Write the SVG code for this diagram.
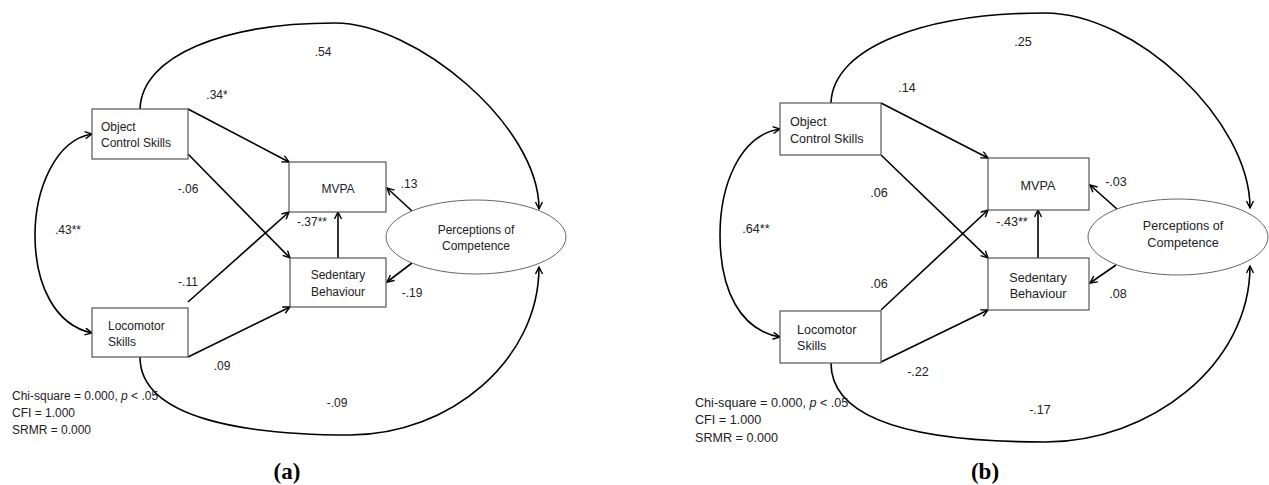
<svg xmlns="http://www.w3.org/2000/svg" width="1269" height="485" viewBox="0 0 1269 485">
<defs>
<marker id="ah" markerWidth="10" markerHeight="10" refX="8" refY="4" orient="auto" markerUnits="userSpaceOnUse">
<path d="M1,0.5 L8,4 L1,7.5" fill="none" stroke="#000" stroke-width="1.4"/>
</marker>
<marker id="ahs" markerWidth="10" markerHeight="10" refX="1" refY="4" orient="auto" markerUnits="userSpaceOnUse">
<path d="M8,0.5 L1,4 L8,7.5" fill="none" stroke="#000" stroke-width="1.4"/>
</marker>
</defs>
<style>
.box{fill:#fff;stroke:#555;stroke-width:1.2}
.ell{fill:#fff;stroke:#666;stroke-width:1}
.ln{fill:none;stroke:#000;stroke-width:1.6;marker-end:url(#ah)}
.bi{fill:none;stroke:#000;stroke-width:1.6;marker-start:url(#ahs);marker-end:url(#ah)}
.pl{fill:none;stroke:#000;stroke-width:1.6}
text{font-family:"Liberation Sans",Arial,sans-serif;font-size:12px;fill:#222}
.b{font-size:12.6px}
.c{text-anchor:middle}
.cap{font-family:"Liberation Serif","Times New Roman",serif;font-weight:bold;font-size:23px;fill:#000;text-anchor:middle}
</style>
<rect width="1269" height="485" fill="#fff"/>

<!-- Panel (a) connectors -->
<g id="connectors-a">
<path class="ln" d="M140,109 C142,55 225,23 335,23 C415,23 539,125 539,209"/>
<path class="ln" d="M140,357 C140,420 250,435 350,435 C450,435 539,360 539,267"/>
<path class="bi" d="M92,134 C55,140 35,190 35,235 C35,285 55,325 92,333"/>
<line class="ln" x1="188" y1="109" x2="289" y2="162"/>
<line class="ln" x1="188" y1="154" x2="290" y2="258"/>
<line class="ln" x1="188" y1="302" x2="289" y2="212"/>
<line class="ln" x1="188" y1="357" x2="290" y2="307"/>
<line class="ln" x1="338" y1="258" x2="338" y2="212"/>
<line class="ln" x1="412" y1="211" x2="387" y2="188"/>
<line class="ln" x1="412" y1="263" x2="387" y2="282"/>
</g>

<g id="a-ocs"><rect class="box" x="92" y="109" width="96" height="50"/><text x="101" y="131">Object</text><text x="101" y="147">Control Skills</text></g>
<g id="a-loco"><rect class="box" x="92" y="308" width="96" height="49"/><text x="108" y="330">Locomotor</text><text x="108" y="346">Skills</text></g>
<g id="a-mvpa"><rect class="box" x="289" y="162" width="97" height="50"/><text class="c" x="338" y="193">MVPA</text></g>
<g id="a-sed"><rect class="box" x="290" y="258" width="96" height="49"/><text class="c" x="338" y="279">Sedentary</text><text class="c" x="338" y="296">Behaviour</text></g>
<g id="a-pc"><ellipse class="ell" cx="476" cy="237" rx="90" ry="37"/><text class="c" x="476" y="234">Perceptions of</text><text class="c" x="476" y="250">Competence</text></g>

<g id="labels-a">
<text class="c" x="323" y="56">.54</text>
<text class="c" x="217" y="99">.34*</text>
<text class="c" x="188" y="193">-.06</text>
<text class="c" x="68" y="234">.43**</text>
<text class="c" x="188" y="286">-.11</text>
<text class="c" x="312" y="226">-.37**</text>
<text class="c" x="409" y="188">.13</text>
<text class="c" x="412" y="297">-.19</text>
<text class="c" x="222" y="370">.09</text>
<text class="c" x="337" y="407">-.09</text>
<text x="12" y="400">Chi-square = 0.000, <tspan font-style="italic">p</tspan> &lt; .05</text>
<text x="12" y="417">CFI = 1.000</text>
<text x="12" y="434">SRMR = 0.000</text>
<text class="cap" x="287" y="479">(a)</text>
</g>

<!-- Panel (b) connectors -->
<g id="connectors-b">
<path class="ln" d="M831,103 C833,45 930,13 1045,13 C1135,13 1250,120 1250,208"/>
<path class="ln" d="M831,363 C831,425 930,442 1045,442 C1150,442 1250,365 1250,266"/>
<path class="bi" d="M780,129 C740,135 720,185 720,235 C720,290 740,330 780,337"/>
<line class="ln" x1="881" y1="103" x2="988" y2="158"/>
<line class="ln" x1="881" y1="155" x2="988" y2="258"/>
<line class="ln" x1="881" y1="310" x2="988" y2="210"/>
<line class="ln" x1="881" y1="362" x2="988" y2="310"/>
<line class="ln" x1="1038" y1="258" x2="1038" y2="210"/>
<line class="ln" x1="1117" y1="209" x2="1090" y2="185"/>
<line class="ln" x1="1116" y1="265" x2="1090" y2="283"/>
</g>

<g id="b-ocs"><rect class="box" x="780" y="103" width="101" height="52"/><text class="b" x="790" y="126">Object</text><text class="b" x="790" y="143">Control Skills</text></g>
<g id="b-loco"><rect class="box" x="780" y="311" width="101" height="52"/><text class="b" x="797" y="334">Locomotor</text><text class="b" x="797" y="350">Skills</text></g>
<g id="b-mvpa"><rect class="box" x="988" y="158" width="101" height="52"/><text class="b c" x="1038" y="190">MVPA</text></g>
<g id="b-sed"><rect class="box" x="988" y="258" width="101" height="52"/><text class="b c" x="1038" y="282">Sedentary</text><text class="b c" x="1038" y="298">Behaviour</text></g>
<g id="b-pc"><ellipse class="ell" cx="1178" cy="237" rx="90" ry="38"/><text class="b c" x="1183" y="230">Perceptions of</text><text class="b c" x="1183" y="247">Competence</text></g>

<g id="labels-b">
<text class="b c" x="1023" y="46">.25</text>
<text class="b c" x="907" y="92">.14</text>
<text class="b c" x="879" y="197">.06</text>
<text class="b c" x="756" y="233">.64**</text>
<text class="b c" x="879" y="288">.06</text>
<text class="b c" x="1012" y="226">-.43**</text>
<text class="b c" x="1116" y="186">-.03</text>
<text class="b c" x="1118" y="298">.08</text>
<text class="b c" x="918" y="376">-.22</text>
<text class="b c" x="1040" y="414">-.17</text>
<text class="b" x="695" y="407">Chi-square = 0.000, <tspan font-style="italic">p</tspan> &lt; .05</text>
<text class="b" x="695" y="424">CFI = 1.000</text>
<text class="b" x="695" y="442">SRMR = 0.000</text>
<text class="cap" x="985" y="479">(b)</text>
</g>
</svg>
